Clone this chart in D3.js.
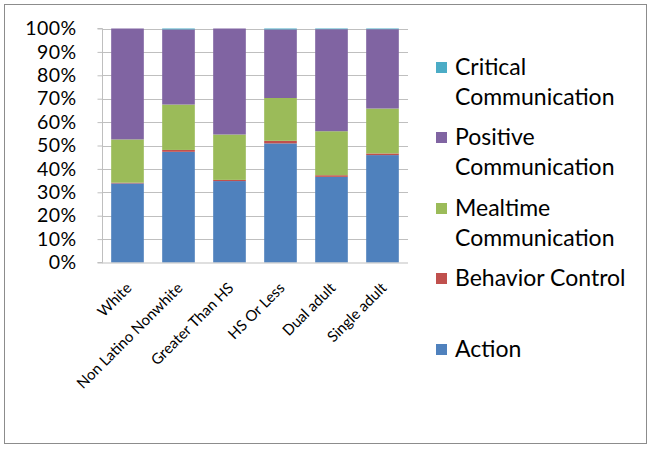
<!DOCTYPE html>
<html><head><meta charset="utf-8">
<script src="https://cdn.jsdelivr.net/npm/d3@7"></script>
<style>body{margin:0;background:#fff}svg{display:block}</style>
</head><body><svg id="c" width="649" height="450"></svg>
<script>
const categories = ["White","Non Latino Nonwhite","Greater Than HS","HS Or Less","Dual adult","Single adult"];
const action = [33.8, 47.3, 34.8, 50.9, 36.6, 45.9];
const behaviorControl = [0.3, 0.8, 0.5, 1.1, 0.7, 0.7];
const mealtime = [18.5, 19.4, 19.4, 18.3, 18.8, 19.2];
const positive = [47.4, 32.1, 45.3, 29.3, 43.6, 33.9];
const critical = [0.0, 0.4, 0.0, 0.4, 0.3, 0.3];
const yTicks = [0,10,20,30,40,50,60,70,80,90,100];
const seriesNames = ["Action","Behavior Control","Mealtime Communication","Positive Communication","Critical Communication"];
const seriesColors = ["#4F81BD","#C0504D","#9BBB59","#8064A2","#4BACC6"];
const legendLines = [["Critical","Communication"],["Positive","Communication"],["Mealtime","Communication"],["Behavior Control"],["Action"]];

const svg = d3.select("#c");
const font = "Lato, 'Open Sans', sans-serif";
svg.append("rect").attr("x",4.5).attr("y",4.5).attr("width",642).attr("height",439)
  .attr("fill","#fff").attr("stroke","#8c8c8c").attr("stroke-width",1);

const L=102, R=408, T=28.5, B=262.5;
const x = d3.scaleBand().domain(categories).range([L,R]).paddingInner(0.36).paddingOuter(0.18);
const y = d3.scaleLinear().domain([0,100]).range([B,T]);

// gridlines
svg.append("g").selectAll("line").data(yTicks.slice(1)).join("line")
  .attr("x1",L).attr("x2",R).attr("y1",d=>Math.round(y(d))+0.5).attr("y2",d=>Math.round(y(d))+0.5)
  .attr("stroke","#bfbfbf");

const table = categories.map((c,i)=>({cat:c, "Action":action[i], "Behavior Control":behaviorControl[i],
  "Mealtime Communication":mealtime[i], "Positive Communication":positive[i], "Critical Communication":critical[i]}));
const stack = d3.stack().keys(seriesNames)(table);
svg.append("g").selectAll("g").data(stack).join("g").attr("fill",(d,i)=>seriesColors[i])
  .selectAll("rect").data(d=>d).join("rect")
  .attr("x",d=>x(d.data.cat)).attr("width",x.bandwidth())
  .attr("y",d=>y(d[1])).attr("height",d=>Math.max(0,y(d[0])-y(d[1])));

// y axis
const ya = svg.append("g").attr("transform",`translate(${L+0.5},0)`)
  .call(d3.axisLeft(y).tickValues(yTicks).tickFormat(d=>d+"%").tickSize(5).tickPadding(21));
ya.select(".domain").attr("stroke","#bfbfbf").attr("d",`M-5,${T}H0V${B}H-5`);
ya.selectAll(".tick line").attr("stroke","#bfbfbf");
ya.selectAll("text").attr("font-family",font).attr("font-size",19.5).attr("fill","#000")
  .attr("letter-spacing",0.4);

// x axis
const xa = svg.append("g").attr("transform",`translate(0,${B+0.5})`)
  .call(d3.axisBottom(x).tickSize(0).tickPadding(0));
xa.select(".domain").attr("stroke","#bfbfbf").attr("d",`M${L},0H${R}`);
xa.selectAll("text").attr("font-family",font).attr("font-size",15).attr("fill","#000")
  .attr("text-anchor","end").attr("dy",0)
  .attr("transform","translate(5,26) rotate(-45)");

// legend
const legendY = [62, 132, 203, 273, 344];
const lg = svg.append("g");
legendLines.forEach((lines,i)=>{
  const colorIdx = seriesNames.length-1-i;
  lg.append("rect").attr("x",436).attr("y",legendY[i]).attr("width",11).attr("height",11).attr("fill",seriesColors[colorIdx]);
  lines.forEach((t,j)=>{
    lg.append("text").attr("x",455).attr("y",legendY[i]+13+j*30).attr("font-family",font).attr("font-size",23)
      .attr("fill","#000").text(t);
  });
});
</script></body></html>
